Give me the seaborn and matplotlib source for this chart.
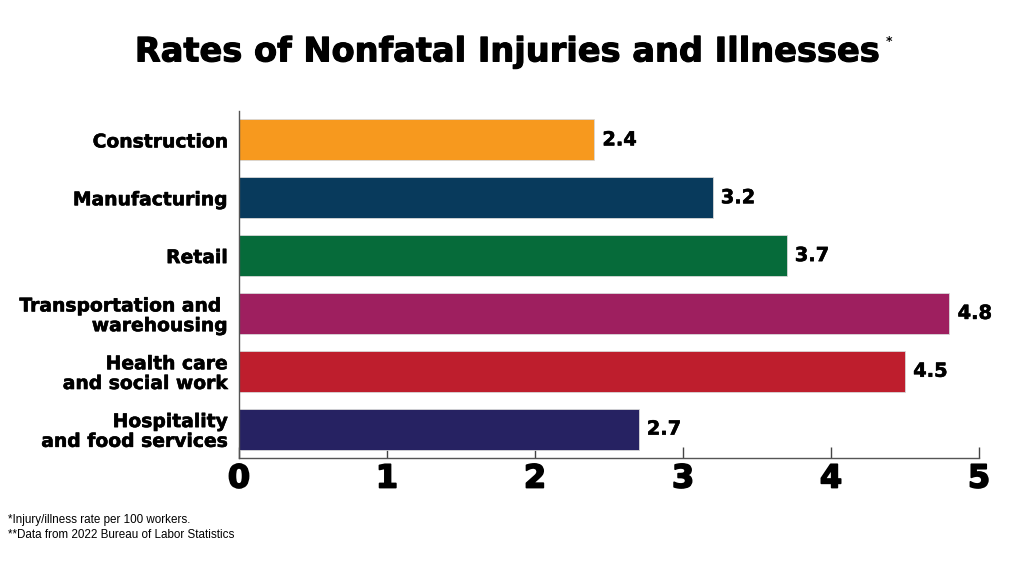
import matplotlib
matplotlib.use("Agg")
import matplotlib.pyplot as plt
import matplotlib.patheffects as pe
import seaborn as sns
import pandas as pd

categories = ["Construction", "Manufacturing", "Retail",
              "Transportation and \nwarehousing", "Health care\nand social work",
              "Hospitality\nand food services"]
rates = [2.4, 3.2, 3.7, 4.8, 4.5, 2.7]
colors = ["#F7991E", "#083A5C", "#066B3A", "#9E1F5F", "#BE1E2D", "#262262"]
xticks = [0, 1, 2, 3, 4, 5]
title = "Rates of Nonfatal Injuries and Illnesses"
notes = ["*Injury/illness rate per 100 workers.", "**Data from 2022 Bureau of Labor Statistics"]

sns.set_theme(style="white")
plt.rcParams['font.family'] = ['DejaVu Sans']
plt.rcParams['text.color'] = 'black'

df = pd.DataFrame({"cat": categories, "rate": rates})
fig = plt.figure(figsize=(10.24, 5.77), dpi=100)
ax = fig.add_axes([0.2334, 0.2062, 0.7227, 0.6014])
sns.barplot(data=df, y="cat", x="rate", hue="cat", palette=colors, legend=False,
            width=0.71, saturation=1, ax=ax, edgecolor="#d8d8d8", linewidth=0.6, orient="h")

ax.set_xlim(0, 5)
ax.set_ylim(5.5, -0.5)
ax.set_xlabel("")
ax.set_ylabel("")
ax.set_xticks(xticks)
ax.set_xticklabels([str(t) for t in xticks])
for lab in ax.get_xticklabels():
    lab.set_fontsize(23)
    lab.set_fontweight("bold")
    lab.set_color("black")
    lab.set_path_effects([pe.withStroke(linewidth=1.2, foreground="black")])
ax.tick_params(axis="x", direction="in", length=8, width=1, color="#444444", pad=4, bottom=True)
ax.tick_params(axis="y", length=0, pad=8)
for lab in ax.get_yticklabels():
    lab.set_fontsize(13.5)
    lab.set_fontweight("bold")
    lab.set_color("black")
    lab.set_ha("right")
    lab.set_multialignment("right")
    lab.set_linespacing(1.05)
    lab.set_path_effects([pe.withStroke(linewidth=0.4, foreground="black")])
for s in ["top", "right"]:
    ax.spines[s].set_visible(False)
for s in ["left", "bottom"]:
    ax.spines[s].set_color("#555555")
    ax.spines[s].set_linewidth(1)

for i, v in enumerate(rates):
    ax.text(v + 0.055, i, f"{v}", va="center", ha="left", fontsize=14, fontweight="bold", color="black",
            path_effects=[pe.withStroke(linewidth=0.4, foreground="black")])

t = fig.text(0.497, 0.910, title, ha="center", va="center", fontsize=24.2, fontweight="bold",
             color="black", path_effects=[pe.withStroke(linewidth=0.8, foreground="black")])
fig.canvas.draw()
bb = t.get_window_extent(renderer=fig.canvas.get_renderer())
fig.text(bb.x1 / fig.bbox.width + 0.003, 0.928, "*", ha="left", va="center", fontsize=9,
         fontweight="bold", color="black")
for k, note in enumerate(notes):
    fig.text(0.008, 0.0988 - 0.026 * k, note, ha="left", va="center", fontsize=8.4,
             family=["Liberation Sans", "DejaVu Sans"], color="black")

fig.savefig("out.png", dpi=100)
